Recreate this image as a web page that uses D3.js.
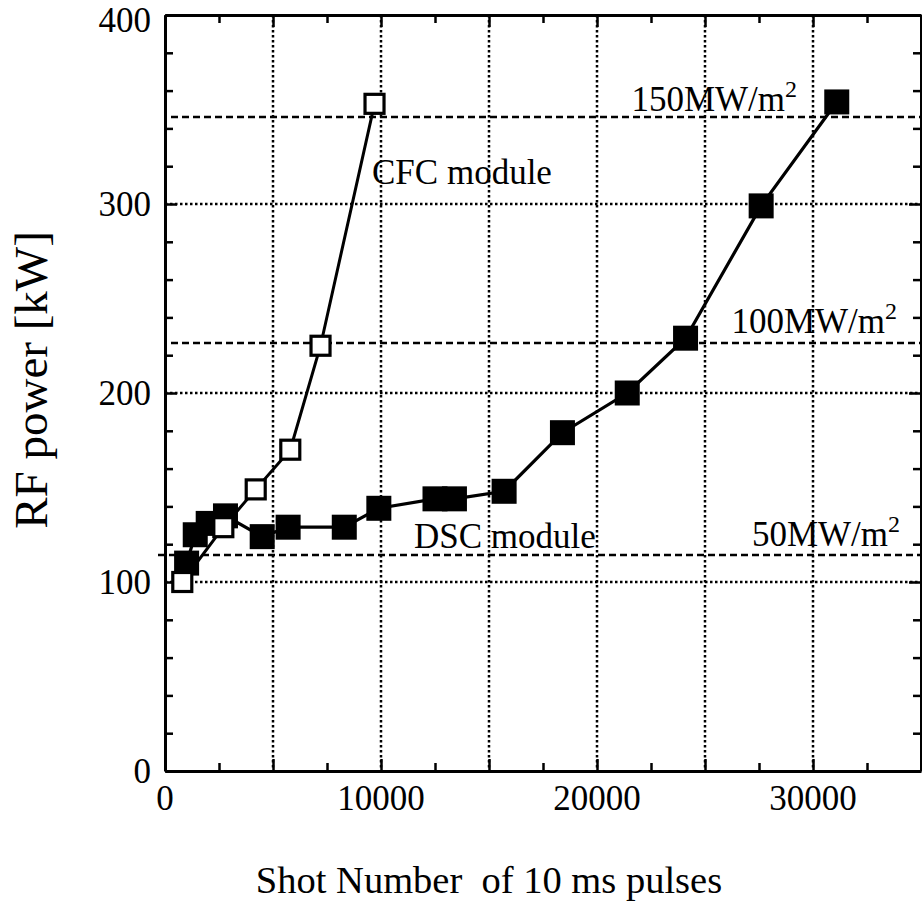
<!DOCTYPE html>
<html><head><meta charset="utf-8">
<script src="https://cdn.jsdelivr.net/npm/d3@7"></script>
<style>
body{margin:0;background:#fff;}
text{font-family:"Liberation Serif","Times New Roman",serif;fill:#000;}
</style></head>
<body><svg id="c" width="922" height="919"></svg>
<script>
// Data
const cfcX = [800, 2700, 4200, 5800, 7200, 9700];
const cfcY = [100, 129, 149, 170, 225, 353];
const dscX = [1000, 1400, 2000, 2800, 4500, 5700, 8300, 9900, 12500, 13400, 15700, 18400, 21400, 24100, 27600, 31100];
const dscY = [110, 125, 131, 135, 124, 129, 129, 139, 144, 144, 148, 179, 200, 229, 299, 354];
const fluxLevels = [346, 226.5, 114.3];
const fluxLabels = ["150MW/m", "100MW/m", "50MW/m"];
const xTickLabels = [0, 10000, 20000, 30000];
const yTickLabels = [0, 100, 200, 300, 400];

const svg = d3.select("#c");
const L = 165, R = 921, T = 15, B = 771;
const x = d3.scaleLinear().domain([0, 35000]).range([L, R]);
const y = d3.scaleLinear().domain([0, 400]).range([B, T]);

// Gridlines (dotted)
const g = svg.append("g");
g.selectAll(".vg").data(d3.range(5000, 35000, 5000)).join("line")
  .attr("x1", d => x(d)).attr("x2", d => x(d)).attr("y1", T).attr("y2", B)
  .attr("stroke", "#000").attr("stroke-width", 2.5).attr("stroke-dasharray", "2.5,2.5");
g.selectAll(".hg").data([100, 200, 300]).join("line")
  .attr("x1", L).attr("x2", R).attr("y1", d => y(d)).attr("y2", d => y(d))
  .attr("stroke", "#000").attr("stroke-width", 2.5).attr("stroke-dasharray", "2.5,2.5");

// Flux dashed lines
g.selectAll(".fl").data(fluxLevels).join("line")
  .attr("x1", (d, i) => i === 2 ? L - 7 : L + 6).attr("x2", R).attr("y1", d => y(d)).attr("y2", d => y(d))
  .attr("stroke", "#000").attr("stroke-width", 2.5).attr("stroke-dasharray", "7,4");

// Axes frame with ticks
const axB = d3.axisTop(x).tickValues(d3.range(0, 35001, 2500)).tickFormat("")
  .tickSizeInner(0).tickSizeOuter(0);
svg.append("g").attr("transform", `translate(0,${B})`).call(axB)
  .call(a => a.selectAll(".tick line").attr("y2", d => d % 5000 === 0 ? -12 : -8).attr("stroke-width", 2.5))
  .call(a => a.select(".domain").attr("stroke-width", 3));
svg.append("g").attr("transform", `translate(0,${T})`).call(d3.axisBottom(x).tickValues(d3.range(0, 35001, 2500)).tickFormat("").tickSizeOuter(0))
  .call(a => a.selectAll(".tick line").attr("y2", d => d % 5000 === 0 ? 12 : 8).attr("stroke-width", 2.5))
  .call(a => a.select(".domain").attr("stroke-width", 3));
svg.append("g").attr("transform", `translate(${L},0)`).call(d3.axisRight(y).tickValues(d3.range(0, 401, 20)).tickFormat("").tickSizeOuter(0))
  .call(a => a.selectAll(".tick line").attr("x2", d => d % 100 === 0 ? 12 : 8).attr("stroke-width", 2.5))
  .call(a => a.select(".domain").attr("stroke-width", 3));
svg.append("g").attr("transform", `translate(${R},0)`).call(d3.axisLeft(y).tickValues(d3.range(0, 401, 20)).tickFormat("").tickSizeOuter(0))
  .call(a => a.selectAll(".tick line").attr("x2", d => d % 100 === 0 ? -12 : -8).attr("stroke-width", 2.5))
  .call(a => a.select(".domain").attr("stroke-width", 3));

// Tick labels
svg.selectAll(".xl").data(xTickLabels).join("text")
  .attr("x", d => x(d)).attr("y", 810).attr("text-anchor", "middle")
  .attr("font-size", 35).text(d => d);
svg.selectAll(".yl").data(yTickLabels).join("text")
  .attr("x", 151).attr("y", d => y(d) + (d === 400 ? 17 : 12)).attr("text-anchor", "end")
  .attr("font-size", 35).text(d => d);

// Axis titles
svg.append("text").attr("x", 489).attr("y", 893).attr("text-anchor", "middle")
  .attr("font-size", 38.5).text("Shot Number\u00a0 of 10 ms pulses");
svg.append("text").attr("transform", "translate(47,380) rotate(-90)").attr("text-anchor", "middle")
  .attr("font-size", 47).text("RF power [kW]");

// DSC series
const line = d3.line().x(d => x(d[0])).y(d => y(d[1]));
const dsc = d3.zip(dscX, dscY);
const cfc = d3.zip(cfcX, cfcY);
svg.append("path").attr("d", line(dsc)).attr("fill", "none").attr("stroke", "#000").attr("stroke-width", 3.2);
const ds = 25;
svg.selectAll(".ds").data(dsc).join("rect")
  .attr("x", d => x(d[0]) - ds / 2).attr("y", d => y(d[1]) - ds / 2)
  .attr("width", ds).attr("height", ds).attr("fill", "#000");

// CFC series
svg.append("path").attr("d", line(cfc)).attr("fill", "none").attr("stroke", "#000").attr("stroke-width", 3);
const cs = 19;
svg.selectAll(".cs").data(cfc).join("rect")
  .attr("x", d => x(d[0]) - cs / 2).attr("y", d => y(d[1]) - cs / 2)
  .attr("width", cs).attr("height", cs).attr("fill", "#fff").attr("stroke", "#000").attr("stroke-width", 3.2);

// Annotations
svg.append("text").attr("x", 372).attr("y", 184).attr("font-size", 35).text("CFC module");
svg.append("text").attr("x", 414).attr("y", 548).attr("font-size", 35).text("DSC module");
const fx = [797, 897, 900], fy = [111, 333, 546];
fluxLabels.forEach((t, i) => {
  const tx = svg.append("text").attr("x", fx[i]).attr("y", fy[i]).attr("text-anchor", "end").attr("font-size", 35);
  tx.append("tspan").text(t);
  tx.append("tspan").attr("dy", -14).attr("font-size", 24).text("2");
});
</script></body></html>
